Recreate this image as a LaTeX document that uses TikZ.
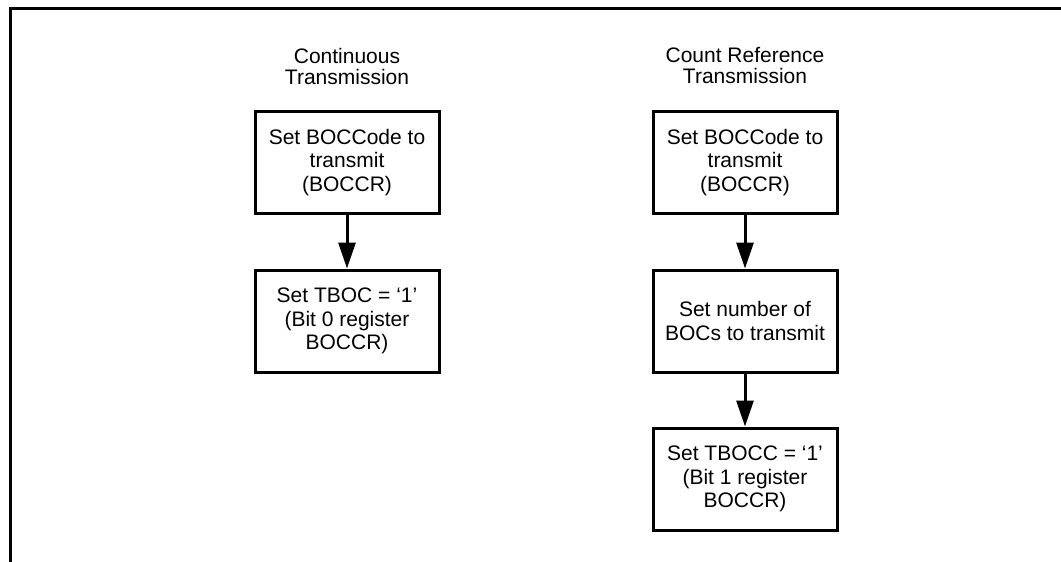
\documentclass[tikz,border=0pt]{standalone}
\usepackage{fontspec}
\setmainfont{Liberation Sans}
\usetikzlibrary{arrows.meta}
\begin{document}
\begin{tikzpicture}[x=1pt,y=-1pt,
  flowbox/.style={draw=black, line width=3pt, minimum width=184pt, minimum height=102pt, align=center, inner sep=0pt, font=\fontsize{21}{23.5}\selectfont},
  title/.style={align=center, inner sep=0pt, font=\fontsize{21}{21}\selectfont},
  flowarrow/.style={line width=3pt, -{Triangle[length=26pt,width=17pt]}},
  frameline/.style={line width=3pt, line cap=butt}]
\useasboundingbox (0,0) rectangle (1061,562);
\coordinate (ftop) at (1061,8);
\coordinate (fcorner) at (10,8);
\coordinate (fbottom) at (10,562);
\draw[frameline] (ftop) -- (fcorner) -- (fbottom);

\node[title] (t1) at (347,66) {Continuous\\Transmission};
\node[title] (t2) at (745,66) {Count Reference\\Transmission};

\node[flowbox] (a1) at (347,162.5) {Set BOCCode to\\transmit\\(BOCCR)};
\node[flowbox] (a2) at (347,321) {Set TBOC = ‘1’\\(Bit 0 register\\BOCCR)};

\node[flowbox] (b1) at (745,162.5) {Set BOCCode to\\transmit\\(BOCCR)};
\node[flowbox] (b2) at (745,321) {Set number of\\BOCs to transmit};
\node[flowbox] (b3) at (745,479) {Set TBOCC = ‘1’\\(Bit 1 register\\BOCCR)};

\draw[flowarrow] (a1) -- (a2);
\draw[flowarrow] (b1) -- (b2);
\draw[flowarrow] (b2) -- (b3);
\end{tikzpicture}
\end{document}
